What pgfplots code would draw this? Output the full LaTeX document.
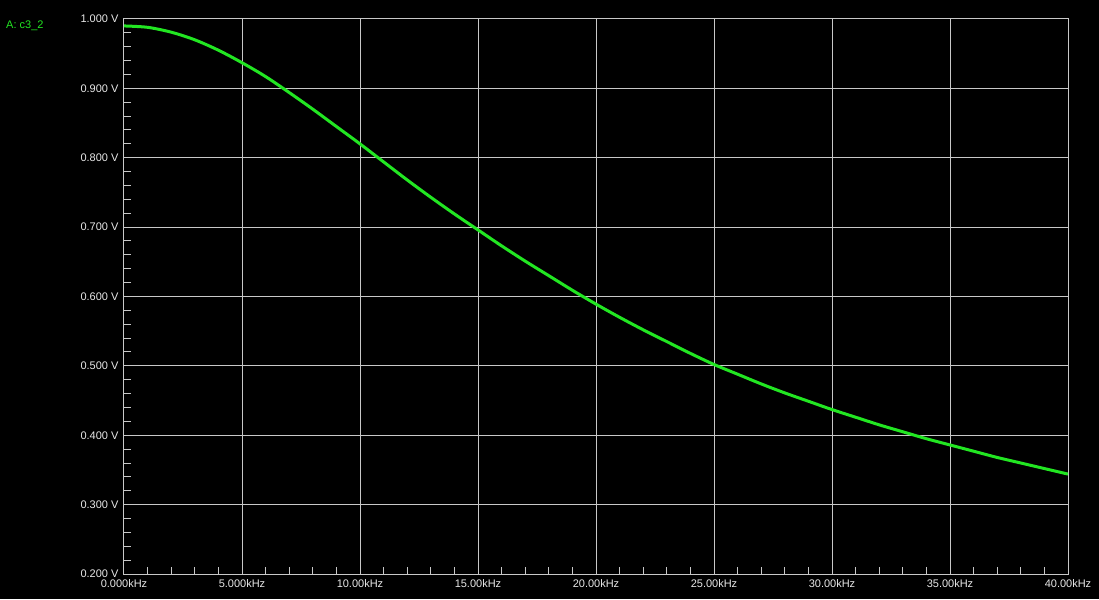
\documentclass[border=0pt]{standalone}
\usepackage{fontspec}
\setmainfont{Liberation Sans}
\usepackage{pgfplots}
\pgfplotsset{compat=1.18}
\definecolor{rejilla}{HTML}{C8C8C8}
\definecolor{traza}{HTML}{22E622}
\definecolor{rotulo}{HTML}{E8E8E8}

\begin{document}
\begin{tikzpicture}[x=1pt,y=1pt]
  \useasboundingbox (-124,-25) rectangle (975,574);
  \fill[black] (-124,-25) rectangle (975,574);
  \begin{axis}[
    at={(0,0)}, anchor=south west,
    scale only axis,
    width=944pt, height=555pt,
    xmin=0, xmax=40, ymin=0.2, ymax=1.0,
    xtick={0,5,10,15,20,25,30,35,40},
    xticklabels={0.000kHz,5.000kHz,10.00kHz,15.00kHz,20.00kHz,25.00kHz,30.00kHz,35.00kHz,40.00kHz},
    ytick={0.2,0.3,0.4,0.5,0.6,0.7,0.8,0.9,1.0},
    yticklabels={0.200 V,0.300 V,0.400 V,0.500 V,0.600 V,0.700 V,0.800 V,0.900 V,1.000 V},
    minor x tick num=4,
    minor y tick num=4,
    tick pos=left,
    tick align=inside,
    major tick length=0pt,
    minor tick length=7pt,
    minor tick style={rejilla, line width=1pt},
    grid=major,
    grid style={rejilla, line width=1pt},
    axis line style={rejilla, line width=1pt},
    tick label style={font=\fontsize{11}{13}\selectfont, text=rotulo},
    yticklabel style={xshift=-2pt},
    xticklabel style={yshift=-2pt},
  ]
    \addplot[traza, line width=3pt, smooth] coordinates {
      (0,0.990) (1,0.988) (2,0.981) (3,0.970) (4,0.955) (5,0.937)
      (6,0.917) (7,0.894) (8,0.870) (9,0.845) (10,0.820)
      (11,0.794) (12,0.768) (13,0.743) (14,0.719) (15,0.696)
      (16,0.673) (17,0.651) (18,0.630) (19,0.609) (20,0.589)
      (21,0.570) (22,0.552) (23,0.535) (24,0.518) (25,0.502)
      (26,0.488) (27,0.474) (28,0.461) (29,0.449) (30,0.437)
      (31,0.426) (32,0.415) (33,0.405) (34,0.395) (35,0.386)
      (36,0.377) (37,0.368) (38,0.360) (39,0.352) (40,0.344)
    };
  \end{axis}
  \node[anchor=west, text=traza, font=\fontsize{11}{13}\selectfont, inner sep=0pt]
    at (-118,548) {A: c3\_2};
\end{tikzpicture}
\end{document}
